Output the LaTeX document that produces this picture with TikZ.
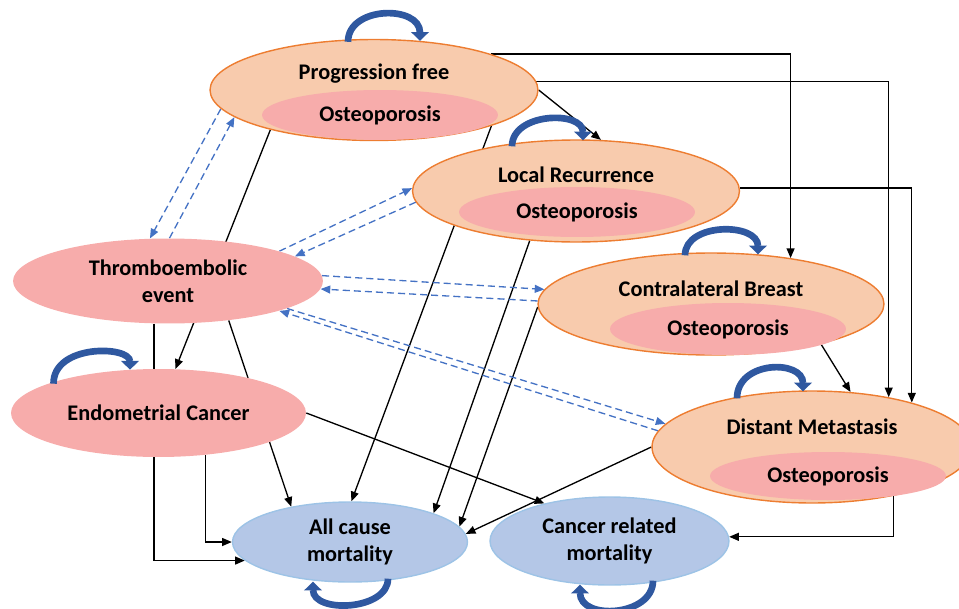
\documentclass[tikz,border=0pt]{standalone}
\usepackage{fontspec}
\setmainfont{Carlito}
\usepackage{xcolor}
\usepackage{tikz}
\usetikzlibrary{shapes.geometric, arrows.meta, backgrounds}

\definecolor{stateorange}{RGB}{248,203,173}
\definecolor{stateline}{RGB}{237,125,49}
\definecolor{bonepink}{RGB}{247,172,171}
\definecolor{deathblue}{RGB}{180,199,231}
\definecolor{deathline}{RGB}{157,195,230}
\definecolor{linkblue}{RGB}{68,114,196}
\definecolor{loopblue}{RGB}{47,88,160}

\begin{document}
\begin{tikzpicture}[x=0.02cm, y=-0.02cm, font=\fontsize{12.7}{15.3}\selectfont\bfseries]
\tikzstyle{state} = [ellipse, draw=stateline, fill=stateorange, line width=0.8pt, inner sep=0pt]
\tikzstyle{bone} = [ellipse, fill=bonepink, inner sep=0pt, minimum width=4.72cm, minimum height=1cm]
\tikzstyle{event} = [ellipse, fill=bonepink, inner sep=0pt, align=center]
\tikzstyle{death} = [ellipse, draw=deathline, fill=deathblue, line width=0.8pt, inner sep=0pt, align=center]
\tikzstyle{arrow} = [line width=0.75pt, -{Triangle[length=5.5pt,width=4.5pt]}]
\tikzstyle{link} = [linkblue, line width=0.75pt, dash pattern=on 4pt off 2.3pt, -{Triangle[length=5.5pt,width=4.5pt]}]
\tikzstyle{stay} = [loopblue, line width=3.8pt, -{Triangle[length=5pt,width=10pt]}]

\useasboundingbox (0,0) rectangle (959,608);
\clip (0,0) rectangle (959,608);

\node (pf) [state, minimum width=6.56cm, minimum height=2.02cm] at (374,90) {};
\node (pfo) [bone] at (380,115) {Osteoporosis};
\node (pft) at (374,74) {Progression free};

\node (lr) [state, minimum width=6.54cm, minimum height=2.04cm] at (576,191) {};
\node (lro) [bone] at (577,212) {Osteoporosis};
\node (lrt) at (576,175) {Local Recurrence};

\node (cb) [state, minimum width=6.92cm, minimum height=2.04cm] at (711,304) {};
\node (cbo) [bone, minimum height=1.04cm] at (728,329) {Osteoporosis};
\node (cbt) at (711,289) {Contralateral Breast};

\node (dm) [state, minimum width=6.4cm, minimum height=2.24cm] at (812,447) {};
\node (dmo) [bone, minimum height=0.96cm] at (828,476) {Osteoporosis};
\node (dmt) at (812,427) {Distant Metastasis};

\node (te) [event, minimum width=6.2cm, minimum height=1.7cm] at (168,281) {Thromboembolic\\event};
\node (ec) [event, minimum width=5.9cm, minimum height=1.76cm] at (158.5,413) {Endometrial Cancer};
\node (acm) [death, minimum width=4.7cm, minimum height=1.6cm] at (350,542) {All cause\\mortality};
\node (crm) [death, minimum width=4.78cm, minimum height=1.76cm] at (609.5,541) {Cancer related\\mortality};

\begin{scope}[on background layer]
\draw [arrow] (pf.17) -| (cb.30);
\draw [arrow] (pf.3) -| (dm.33);
\draw [arrow] (pf.east) -- (lr.64);
\draw [arrow] (pf.201) -- (ec.69);
\draw [arrow] (pf.-17) -- (acm.88);
\draw [arrow] (lr.227) -- (acm.19);
\draw [arrow] (lr.1) -| (dm.24);
\draw [arrow] (cb.181) -- (acm.8);
\draw [arrow] (cb.-20) -- (dm.55);
\draw [arrow] (dm.west) -- (acm.4);
\draw [arrow] (dm.-31) |- (crm.2);
\draw [arrow] (ec.east) -- (crm.150);
\draw [arrow] (ec.-42) |- (acm.west);
\draw [arrow] (te.252) |- (acm.190);
\draw [arrow] (te.-33) -- (acm.149);

\draw [link] (pf.187) -- (te.113);
\draw [link] (te.88) -- (pf.191);
\draw [link] (te.15) -- (lr.179);
\draw [link] (lr.184) -- (te.11);
\draw [link] (te.2) -- (cb.175);
\draw [link] (cb.179) -- (te.-3);
\draw [link] (te.-13) -- (dm.171);
\draw [link] (dm.174) -- (te.-15);
\end{scope}

\draw [stay] ([shift={(-26,3)}]pf.north) .. controls +(0,-36) and +(0,-36) .. ([shift={(46,2)}]pf.north);
\draw [stay] ([shift={(-64,7)}]lr.north) .. controls +(0,-34) and +(0,-30) .. ([shift={(7,1)}]lr.north);
\draw [stay] ([shift={(-26,3)}]cb.north) .. controls +(0,-33) and +(0,-32) .. ([shift={(47,2)}]cb.north);
\draw [stay] ([shift={(-75,8)}]dm.north) .. controls +(0,-38) and +(0,-32) .. ([shift={(-9,1)}]dm.north);
\draw [stay] ([shift={(-105,15)}]ec.north) .. controls +(0,-40) and +(0,-24) .. ([shift={(-28.5,1)}]ec.north);
\draw [stay] ([shift={(38,-4)}]acm.south) .. controls +(0,32) and +(0,32) .. ([shift={(-37,-1)}]acm.south);
\draw [stay] ([shift={(43.5,-5)}]crm.south) .. controls +(0,36) and +(0,36) .. ([shift={(-29.5,-1)}]crm.south);

\end{tikzpicture}
\end{document}
